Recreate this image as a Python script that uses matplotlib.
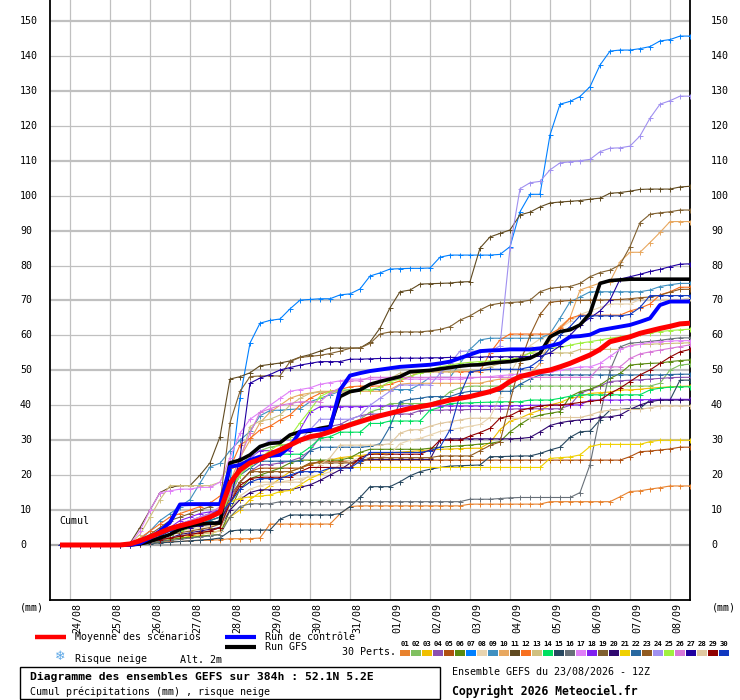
import matplotlib
matplotlib.use('Agg')
import matplotlib.pyplot as plt
from matplotlib.patches import Rectangle
from matplotlib.lines import Line2D

# ---------------- data ----------------
HOURS = list(range(6, 385, 6))   # forecast hours (6-hourly) from 23/08 12Z
DAY_LABELS = ['24/08', '25/08', '26/08', '27/08', '28/08', '29/08', '30/08', '31/08',
              '01/09', '02/09', '03/09', '04/09', '05/09', '06/09', '07/09', '08/09']
DAY_HOURS = [12 + 24 * k for k in range(len(DAY_LABELS))]
Y_TICKS = list(range(0, 151, 10))
MEMBER_NAMES = ['%02d' % k for k in range(1, 31)]
MEMBER_COLORS = ['#e8822e', '#80c060', '#f0c000', '#8c50b0', '#b05010', '#5a8a10',
                 '#0080ff', '#e8d4b0', '#4090c0', '#e8a860', '#604a20', '#f87020',
                 '#d0c080', '#00e060', '#284860', '#687078', '#e080f8', '#8020f0',
                 '#806030', '#300870', '#f0d000', '#2868a0', '#905a20', '#a090f0',
                 '#a0f040', '#d878d8', '#2000a0', '#e0c8a0', '#900000', '#1038c0']

M01 = [0,0,0,0,0,0,0,0,0.3,
       0.5,0.8,1,1,1.2,1.3,1.4,1.5,1.8,1.8,
       1.8,2,6,6,6,6,6,6,6,8.9,
       11,11.2,11.2,11.2,11.2,11.2,11.2,11.2,11.2,11.2,
       11.2,11.2,11.7,11.7,11.7,11.7,11.7,11.7,11.7,11.7,
       12.4,12.4,12.4,12.4,12.4,12.4,12.4,13.8,15.3,15.5,
       16,16.4,16.9,16.9,16.9]
M02 = [0,0,0,0,0,0,0,0,0.5,
       1,1.5,2,2.5,3,3.3,3.6,4,15,22,
       26,27,28,28.5,29,30,31,32,33,34,
       35,36,38,39,40.5,40.5,40.5,40.5,40.5,41.5,
       43.9,45,45.5,45.5,45.5,45.5,45.5,45.5,45.5,45.5,
       45.5,45.5,45.5,45.5,45.5,45.5,45.5,45.5,45.5,45.5,
       45.5,46.3,50.1,51.5,51.8]
M03 = [0,0,0,0,0,0,0,0,0.2,
       0.5,1,1.5,2,2.5,3,3.5,4,8,10,
       13,15,17,19,21,22,23.2,23.8,24.3,25,
       25.3,25.6,26,26.2,26.4,26.6,26.8,27,27.2,27.4,
       27.5,27.6,27.7,27.7,29.3,33,35.5,36.3,37.6,38.6,
       40.1,40.8,42,42.5,43.4,43.6,43.8,44.4,44.4,44.6,
       44.9,45.1,45.3,45.4,45.5]
M04 = [0,0,0,0,0,0,0,0,0.5,
       1.5,3,4,5,6,6.5,7,8,13,18,
       21,23,23,23.5,24,25,27,31,34,34.5,
       36,37,37.5,37.5,37.5,37.5,37.5,38.5,38.6,38.6,
       38.7,38.7,38.8,38.8,38.8,38.9,38.9,39,39,39,
       39,39,40,43.4,44.5,45.5,46.8,47,47.2,47.3,
       47.5,47.7,47.9,48,48]
M05 = [0,0,0,0,0,0,0,0,0.3,
       0.8,1.5,2,2.5,3,3.5,4,5,12,18,
       21,22,22,22,22,22,23,24,24,24,
       24,24.3,24.3,24.3,24.3,24.3,24.3,24.3,24.3,24.3,
       24.3,24.3,24.3,24.3,24.3,24.3,24.3,24.3,24.3,24.3,
       24.3,24.3,24.3,24.3,24.3,24.3,24.3,24.3,25.3,26.7,
       26.9,27.2,27.5,28,28]
M06 = [0,0,0,0,0,0,0,0,0.2,
       0.5,1,1.5,2,2.2,2.5,2.8,3,10,16,
       19,20,21,22,23.5,24.3,24.3,24.3,24.3,24.3,
       25,26.5,27.4,27.4,27.4,27.4,27.4,27.4,27.7,28,
       28.2,28.4,28.6,28.9,29.1,29.6,32.4,34.5,36.3,37.2,
       37.7,38.2,42.5,43.9,44.6,45.8,47.7,49.1,51.5,51.8,
       52,52.1,52.5,52.8,53]
M07 = [0,0,0,0,0,0,0,0,0.5,
       2,4,5,6,7,8,9,10,18,42,
       57.8,63.5,64.3,64.7,67.6,70.1,70.3,70.5,70.5,71.6,
       71.9,73.3,77,77.9,79,79.1,79.2,79.2,79.3,82.4,
       83,83,83,83,83,83.2,85.4,95.4,100.4,100.4,
       117.4,126.2,127,128.4,131.2,137.4,141.4,141.7,141.7,142.1,
       142.7,144.3,144.7,145.7,145.7]
M08 = [0,0,0,0,0,0,0,0,0.3,
       1,2,3,4,4.5,5,5.5,6,10,14,
       16,17,17.5,18,18.5,19,19.5,20,21,23,
       24,25,25,25,26,29,30,30.5,31.5,32.5,
       33,33.5,34,34.5,36.5,42.5,49.1,54,57,59,
       60,62,64,66,67,68,69,69,69,70.3,
       70.3,70.3,70.3,70.3,70.7]
M09 = [0,0,0,0,0,0,0,0.3,1.5,
       4,7,9,11,13,17.7,22.4,23.4,27,30,
       32.5,37,38.5,38.6,38.8,39,41,42,43,44,
       44.5,44.5,44.5,44.5,44.5,44.5,44.5,46,48,48,
       48,52,56,58.7,59.2,59.2,59.2,59.2,59.2,59.2,
       60.5,64.9,69.6,71,72.5,72.5,72.5,72.5,72.5,72.5,
       73,74,74.5,74.9,74.9]
M10 = [0,0,0,0,0,0,0,0,0.3,
       1,2,3,4,5,6,7.5,9,18,25,
       30,35,38,40,42,43,43.5,44,44,44,
       44,44,44,44,44.5,46,46.3,46.3,46.3,46.3,
       46.3,46.3,46.3,46.3,47,47.5,47.5,47.5,49,52,
       58.7,62.5,65,73,74,75,75.4,81.1,83.8,83.8,
       86.6,89.5,92.6,92.6,92.6]
M11 = [0,0,0,0,0,0,0,0.5,5,
       10,15,16.5,17,17,20,23.5,31,47.5,48.2,
       49.3,51.3,51.7,52.1,52.7,53.8,54.5,55.5,56.4,56.4,
       56.4,56.4,58.1,62.1,67.9,72.5,73,74.7,74.8,74.9,
       75,75.3,75.4,85,88.2,89.2,90.2,94.5,95.3,96.8,
       97.9,98.2,98.4,98.6,99,99.3,100.7,100.9,101.3,101.8,
       101.9,101.9,101.9,102.5,102.7]
M12 = [0,0,0,0,0,0,0,0.3,2,
       4,6,8,9,10,11,12,14,22,28.6,
       30.5,32.9,34,35.8,37.2,40,42,43.4,44,44.5,
       45.3,45.5,45.5,45.5,46,47,48.2,49.6,49.6,49.6,
       49.6,49.6,49.6,49.6,55,58.7,60.4,60.4,60.4,60.4,
       60.4,62,64.9,65.8,65.8,65.8,65.8,65.8,67,67.8,
       69,71.6,72.5,73.8,73.8]
M13 = [0,0,0,0,0,0,0,0.3,3,
       8,13,17,17,17,17,17,18,23.4,24,
       33.9,35.5,36,37.2,40,42,43.4,43.8,43.8,43.8,
       43.8,44.4,46,47,47.7,49.2,49.2,49.2,49.6,49.6,
       49.6,50.1,50.1,50.1,51,52,53,54,55,55,
       55,55,55,56,56,56,56,56,57.2,57.4,
       57.5,57.6,57.7,57.8,57.9]
M14 = [0,0,0,0,0,0,0,0,0.5,
       1,2,3,4,5,6,7,8,16,20,
       23,24,25.5,26,26,26,28,30.5,31,32.3,
       32.3,32.3,34.8,34.8,35.5,35.5,35.5,35.5,38.6,39.4,
       40.5,40.6,40.7,40.8,40.9,41,41,41,41.5,41.5,
       41.5,42,42.6,43,43,43,43,43,43,43,
       44.4,44.9,45.2,45.3,45.3]
M15 = [0,0,0,0,0,0,0,0,0.2,
       0.4,0.6,0.8,1,1.2,1.4,1.6,2,4,4.3,
       4.3,4.3,4.3,7.4,8.6,8.6,8.6,8.6,8.6,9,
       11,13.6,16.7,16.7,16.7,18.1,19.8,21,21.7,22.2,
       22.6,22.7,22.8,22.9,25.3,25.3,25.4,25.5,25.5,26.2,
       27.2,28,30.8,32.4,32.6,35.8,38.6,38.8,39.1,39.1,
       41.5,41.5,41.5,47.2,47.2]
M16 = [0,0,0,0,0,0,0,0,0.3,
       0.6,1,1.3,1.6,2,2.3,2.6,3,8,11,
       11.8,11.8,11.8,12.4,12.4,12.4,12.4,12.4,12.4,12.4,
       12.4,12.4,12.4,12.4,12.4,12.4,12.4,12.4,12.4,12.4,
       12.4,12.4,13.1,13.1,13.1,13.3,13.5,13.6,13.6,13.6,
       13.6,13.6,13.6,15,23,37,50,56.7,57.8,58,
       58.3,58.6,59,59.3,59.3]
M17 = [0,0,0,0,0,0,0,0.3,4,
       10,15,15.5,16,16,16.5,16.5,18,25,32,
       36,38,40,42,44,44.5,45,46,46.5,47,
       47.5,47.5,47.5,47.5,47.5,47.5,47.5,47.5,47.5,47.5,
       47.5,47.5,47.8,48,48.2,48.5,48.7,49,49,49,
       49.5,50,50.5,51,51,52,54,56,57,57.5,
       58,58.2,58.4,58.5,58.5]
M18 = [0,0,0,0,0,0,0,0,0.5,
       1.5,3,5,7,8,9,9.5,10,18,22,
       25,27,27,27,27,33,38,39.6,39.6,39.6,
       39.6,39.6,39.7,39.8,39.8,39.8,39.8,39.8,39.8,39.8,
       39.8,39.8,39.8,39.8,39.8,39.8,39.9,39.9,40,40,
       40,40,40.1,40.1,41.5,41.5,41.5,41.5,41.6,41.6,
       41.6,41.7,41.7,41.7,41.7]
M19 = [0,0,0,0,0,0,0,0.3,1.5,
       3,5,7,8,9,10,11,12,35,44,
       48.2,48.4,48.4,48.4,52.5,53.7,54,54.3,54.8,55.5,
       56.3,56.4,57.7,60.4,61,61,61,61,61.3,61.7,
       62.5,64.4,65.6,67.3,68.7,69.2,69.4,69.6,70.1,72.5,
       73.5,73.8,74,74.9,76.8,78,78.7,80.2,85.4,92.3,
       94.7,95.1,95.4,95.9,95.9]
M20 = [0,0,0,0,0,0,0,0,0.3,
       0.8,1.5,2,3,3.5,4,4.5,5,10,13,
       15,15.8,15.8,15.8,15.8,16.5,17.2,18.5,20,21.5,
       23.4,24.3,24.5,24.5,24.5,24.5,24.5,24.5,24.5,30,
       30.4,30.4,30.4,30.4,30.4,30.4,30.4,30.5,30.8,32.4,
       34.2,35,35.5,35.8,36,36.5,36.7,37.2,38.8,40.1,
       41,41.5,41.5,41.5,41.5]
M21 = [0,0,0,0,0,0,0,0,0.5,
       1.5,3,4,5,6,7,8,10,12.5,13.3,
       13.8,14,14.3,15.3,15.6,17.2,19,20.3,22,22.2,
       22.2,22.2,22.2,22.2,22.2,22.2,22.2,22.2,22.2,22.2,
       22.2,22.2,22.2,22.2,22.2,22.2,22.2,22.2,22.2,22.2,
       24.8,25,25.2,25.8,28.2,28.8,28.8,28.8,28.8,28.8,
       29.6,30,30,30,30]
M22 = [0,0,0,0,0,0,0,0,0.5,
       1,2,3,4,5,6,7,8,14,20,
       22,24,24,24,24,24,27,28,28,28,
       28,28,28.2,29,33.9,41,41.7,42,42.5,42.5,
       42.5,43.5,44,44,44,44,44,46,47.5,48.7,
       48.7,48.7,48.7,48.7,48.7,48.7,48.7,48.7,48.7,48.7,
       48.7,48.7,48.8,48.9,48.9]
M23 = [0,0,0,0,0,0,0,0,0.3,
       1,2,3,3.5,4,4.5,5,6,14,18,
       21,21,21,21,21,22,23.5,23.5,23.5,23.5,
       23.5,23.5,25,25,25,25,25,25,25,25.5,
       25.5,25.5,25.5,27,28.5,29.5,41,52,60,66,
       69.5,69.8,70,70,70.1,70.1,70.2,70.3,70.5,70.8,
       71,71.5,72.4,73.2,73.2]
M24 = [0,0,0,0,0,0,0,0,0.5,
       1.5,3,5,6,7,8,8.5,9,14,20,
       24,28,30,30,30,30,33,36,36,36,
       36,37,40,42,44,45.8,45.8,45.8,45.8,49.1,
       52,55.5,55.5,55.5,55.5,57,85,102,103.7,104.1,
       107.4,109.4,109.7,110,110.4,112.6,113.6,113.7,114.2,117.1,
       122.2,126.2,127.2,128.5,128.5]
M25 = [0,0,0,0,0,0,0,0,0.3,
       1,2,3,4,5,5.5,6,7,15,20,
       23,25,27,29,31,35,38.6,42.5,43.9,44.4,
       44.4,44.4,44.4,45.2,46.8,47.5,48.3,49.2,50.2,51,
       51.5,52,52.3,52.5,52.7,53,53.2,53.5,55,56,
       56.3,56.6,57.2,57.8,58.2,58.7,59.2,59.6,60,60.6,
       60.8,61.1,61.4,61.6,61.8]
M26 = [0,0,0,0,0,0,0,0,0.5,
       1.5,3,4.5,6,7,8,9,11,15,25,
       32,38,39,40,40.5,41,41,41,43.5,45,
       47,47,48,48,48,48,48,48,48,48,
       48,48,48,48,48,48,48,48,48,48,
       48,48,48,48,48,51,51,51,53.4,54.7,
       55.3,55.8,56.3,56.8,57.3]
M27 = [0,0,0,0,0,0,0,0.3,1,
       2,3,4,4.5,5,5.5,6,7,12,25,
       46.3,47.8,48.8,50.1,50.8,51.5,52,52.5,52.5,52.5,
       53.2,53.2,53.3,53.4,53.4,53.5,53.5,53.5,53.6,53.6,
       53.7,53.7,53.8,53.8,53.9,53.9,53.9,53.9,54,54,
       55,57,60,63,65,67,70.1,76.1,76.8,77.5,
       78.3,78.9,79.7,80.4,80.5]
M28 = [0,0,0,0,0,0,0,0,0.3,
       0.8,1.5,2,2.5,3,3.2,3.5,4,12,16,
       18,18,18,18,18,18,20,23,25,28.6,
       28.6,28.6,28.6,28.6,29,32,33,33,34,34.8,
       35.3,35.8,36.3,36.3,36.3,36.3,36.3,36.3,36.3,36.3,
       36.3,36.5,36.5,36.5,37.2,38.2,38.6,38.8,38.8,38.8,
       39.3,39.8,39.8,39.8,39.8]
M29 = [0,0,0,0,0,0,0,0,0.3,
       1,1.5,2,2.5,3,3.5,4,5,12,17,
       19,19.4,19.4,19.4,19.4,21,22.2,22.2,22.2,22.2,
       22.2,25,26,26,26,26,26,26,27.2,30,
       30,30,31.2,32.2,33.4,36.3,37,38.5,39.2,39.8,
       40.1,40.1,40.4,40.8,41.1,41.5,43.4,44.9,46.8,48.7,
       50.1,52,53.8,55.3,56]
M30 = [0,0,0,0,0,0,0,0,0.5,
       1.5,2.5,4,5,6,7,8,9,12,16,
       18,19,19,19,20,21,21,21,22,22,
       22,24,26.5,26.5,26.5,26.5,26.5,26.5,27,28,
       33,43,49.6,50,50.3,50.3,50.3,50.3,51,53,
       56.4,60,62.5,65.6,65.6,65.6,65.6,65.6,66,68,
       71.4,71.4,71.4,71.4,71.4]
CONTROL = [0,0,0,0,0,0,0,0,0.5,
           2,4,6.5,11.6,11.7,11.7,11.7,11.7,22.4,22.9,
           24.3,25.3,25.5,25.8,28.2,32.4,32.9,33,33.4,44.4,
           48.5,49.2,49.8,50.2,50.6,51,51.2,51.4,51.6,52,
           52.5,53.5,54.5,55.5,55.7,55.8,56,56,56,56.3,
           57,57.7,59.6,59.8,60.2,61.5,62,62.5,63,63.9,
           64.9,68.7,69.7,69.7,69.7]
GFS = [0,0,0,0,0,0,0,0,0.3,
       1,2,3,4.5,5.5,6,6.2,6.3,23.5,24.3,
       25.8,28.2,29.1,29.3,31.5,32.4,32.6,33.4,33.9,42.5,
       43.9,44.4,46,46.8,47.5,48.2,49.6,49.8,50,50.4,
       50.8,51.2,51.5,51.6,52,52.3,52.5,53,53.5,54.9,
       59.6,61.1,61.6,63,66.3,74.9,75.7,75.9,76.1,76.1,
       76.1,76.1,76.1,76.1,76.1]
MEAN = [0,0,0,0,0,0,0,0.3,1.2,
        2.3,3.5,4.7,5.5,6.2,7,8,9.4,17.7,21.5,
        23.5,24.5,26,27.2,28.6,30,31,31.5,32.4,33.4,
        34.4,35.3,36.2,37,37.7,38.4,39.1,39.6,40.1,40.8,
        41.5,42,42.5,43.2,43.9,44.9,46.8,48.2,48.9,49.6,
        50.1,51,52,53.2,54.4,56,58.2,58.9,59.6,60.6,
        61.3,62,62.6,63.3,63.5]

MEMBERS = [M01, M02, M03, M04, M05, M06, M07, M08, M09, M10,
           M11, M12, M13, M14, M15, M16, M17, M18, M19, M20,
           M21, M22, M23, M24, M25, M26, M27, M28, M29, M30]

for s in MEMBERS + [CONTROL, GFS, MEAN]:
    assert len(s) == len(HOURS), len(s)

# ---------------- figure ----------------
W, H = 740, 700
MONO = ['DejaVu Sans Mono']
plt.rcParams['font.family'] = MONO
FS = 7.2

fig = plt.figure(figsize=(W / 100, H / 100), dpi=100)
fig.patch.set_facecolor('white')


def fx(x):
    return x / W


def fy(y):
    return 1 - y / H


ax = fig.add_axes([fx(50), fy(600), 640 / W, 600 / H])
ax.set_xlim(0, 384)
ax.set_ylim(-15.75, 156.03)
ax.set_xticks([])
ax.set_yticks([])
for side in ('left', 'right', 'bottom'):
    ax.spines[side].set_color('black')
    ax.spines[side].set_linewidth(1.3)
ax.spines['top'].set_visible(False)

# grid
for v in Y_TICKS:
    odd = (v // 10) % 2 == 1
    if v == 0:
        ax.axhline(v, color='#a8a8a8', lw=1.6, zorder=1)
    else:
        ax.axhline(v, color='#c0c0c0', lw=1.6 if odd else 0.9, zorder=1)
for h in DAY_HOURS:
    ax.axvline(h, color='#c0c0c0', lw=0.9, zorder=1)

# members
for vals, col in zip(MEMBERS, MEMBER_COLORS):
    ax.plot(HOURS, vals, color=col, lw=0.8, marker='+', ms=3.6, mew=0.7, zorder=3)

ax.plot(HOURS, GFS, color='black', lw=2.6, zorder=4, solid_capstyle='butt')
ax.plot(HOURS, CONTROL, color='#0000ff', lw=2.8, zorder=5, solid_capstyle='butt')
ax.plot(HOURS, MEAN, color='#ff0000', lw=3.6, zorder=6, solid_capstyle='butt')

# y labels on both sides
ytr = ax.get_yaxis_transform()
for v in Y_TICKS:
    ax.text((20 - 50) / 640, v, str(v), transform=ytr, ha='left', va='center', fontsize=FS)
    ax.text((711 - 50) / 640, v, str(v), transform=ytr, ha='left', va='center', fontsize=FS)

# date labels
xtr = ax.get_xaxis_transform()
for h, lab in zip(DAY_HOURS, DAY_LABELS):
    ax.text(h + 4.2, -0.005, lab, transform=xtr, rotation=90, ha='center', va='top',
            fontsize=FS, clip_on=False)

fig.text(fx(20), fy(607), '(mm)', ha='left', va='center', fontsize=FS)
fig.text(fx(712), fy(607), '(mm)', ha='left', va='center', fontsize=FS)
fig.text(fx(59), fy(521), 'Cumul', ha='left', va='center', fontsize=FS)

# legend
fig.add_artist(Line2D([fx(35), fx(66)], [fy(637), fy(637)], color='#ff0000', lw=3.2,
                      solid_capstyle='butt'))
fig.text(fx(75), fy(637), 'Moyenne des scénarios', ha='left', va='center', fontsize=FS)
fig.add_artist(Line2D([fx(225), fx(256)], [fy(637), fy(637)], color='#0000ff', lw=3.0,
                      solid_capstyle='butt'))
fig.text(fx(265), fy(637), 'Run de contrôle', ha='left', va='center', fontsize=FS)
fig.add_artist(Line2D([fx(225), fx(256)], [fy(647), fy(647)], color='black', lw=3.0,
                      solid_capstyle='butt'))
fig.text(fx(265), fy(647), 'Run GFS', ha='left', va='center', fontsize=FS)

fig.text(fx(60), fy(657), '❄', ha='center', va='center', fontsize=9, color='#5aa6e6',
         family=['DejaVu Sans'])
fig.text(fx(75), fy(659), 'Risque neige', ha='left', va='center', fontsize=FS)
fig.text(fx(180), fy(660), 'Alt. 2m', ha='left', va='center', fontsize=FS)

fig.text(fx(396), fy(652), '30 Perts.', ha='right', va='center', fontsize=FS)
for k, (name, col) in enumerate(zip(MEMBER_NAMES, MEMBER_COLORS)):
    x0 = 400 + 11 * k
    fig.add_artist(Rectangle((fx(x0), fy(656)), 10 / W, 6 / H, transform=fig.transFigure,
                             facecolor=col, edgecolor='none'))
    fig.text(fx(x0 + 5), fy(644), name, ha='center', va='center', fontsize=5.2,
             fontweight='bold')

fig.add_artist(Rectangle((fx(20), fy(699)), 420 / W, 32 / H, transform=fig.transFigure,
                         fill=False, edgecolor='black', lw=1.0))
fig.text(fx(30), fy(677), 'Diagramme des ensembles GEFS sur 384h : 52.1N 5.2E',
         ha='left', va='center', fontsize=8.2, fontweight='bold')
fig.text(fx(30), fy(692), 'Cumul précipitations (mm) , risque neige',
         ha='left', va='center', fontsize=FS)
fig.text(fx(452), fy(672), 'Ensemble GEFS du 23/08/2026 - 12Z',
         ha='left', va='center', fontsize=FS)
fig.text(fx(452), fy(691), 'Copyright 2026 Meteociel.fr',
         ha='left', va='center', fontsize=8.3, fontweight='bold')

fig.savefig('out.png', dpi=100)
